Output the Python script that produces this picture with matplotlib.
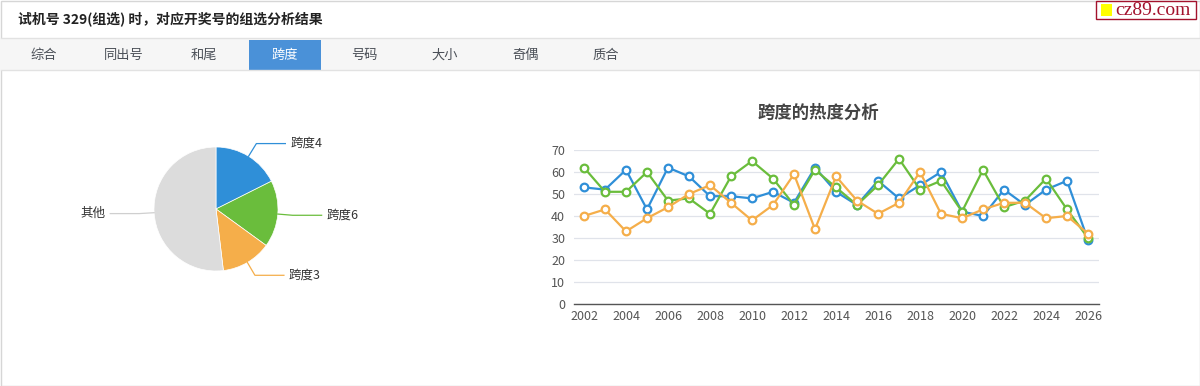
import numpy as np
import matplotlib
matplotlib.use("Agg")
import matplotlib.pyplot as plt
from matplotlib.patches import Rectangle

plt.rcParams['font.family'] = ['Noto Sans CJK SC', 'DejaVu Sans']

# ---- data ----
years = list(range(2002, 2027))
span4 = [53, 52, 61, 43, 62, 58, 49, 49, 48, 51, 46, 62, 51, 45, 56, 48, 54, 60, 42, 40, 52, 45, 52, 56, 29]
span6 = [62, 51, 51, 60, 47, 48, 41, 58, 65, 57, 45, 61, 53, 45, 54, 66, 52, 56, 42, 61, 44, 47, 57, 43, 30]
span3 = [40, 43, 33, 39, 44, 50, 54, 46, 38, 45, 59, 34, 58, 47, 41, 46, 60, 41, 39, 43, 46, 46, 39, 40, 32]

pie_labels = ['跨度4', '跨度6', '跨度3', '其他']
pie_values = [17.6, 17.4, 13.1, 51.9]

tabs = ['综合', '同出号', '和尾', '跨度', '号码', '大小', '奇偶', '质合']
active_tab = '跨度'

blue = '#2f8fd8'
green = '#6abd3c'
orange = '#f5ae4a'
gray = '#dcdcdc'
colors = [blue, green, orange, gray]

W, H = 1200, 386
fig = plt.figure(figsize=(W / 100, H / 100), dpi=100)
fig.patch.set_facecolor('white')

# ---- page chrome (pixel coords) ----
bg = fig.add_axes([0, 0, 1, 1], zorder=0)
bg.set_xlim(0, W)
bg.set_ylim(H, 0)
bg.axis('off')
bg.add_patch(Rectangle((0.5, 0.5), W - 1, H - 1, fill=False, ec='#d6d6d6', lw=1))
bg.add_patch(Rectangle((1, 38), W - 2, 32, fc='#f6f6f6', ec='none'))
bg.plot([1, W - 1], [38, 38], color='#e2e2e2', lw=1)
bg.plot([1, W - 1], [70, 70], color='#e2e2e2', lw=1)
bg.text(18, 19, '试机号 329(组选) 时，对应开奖号的组选分析结果', fontsize=10,
        fontweight='bold', color='#222222', va='center', ha='left')
for i, t in enumerate(tabs):
    cx = 44 + 80.2 * i
    if t == active_tab:
        bg.add_patch(Rectangle((cx - 36, 40), 72, 30, fc='#4a91d8', ec='none'))
        bg.text(cx, 55, t, fontsize=9.5, color='white', ha='center', va='center')
    else:
        bg.text(cx, 55, t, fontsize=9.5, color='#4a4f57', ha='center', va='center')

# logo
bg.add_patch(Rectangle((1096, 1), 100, 18, fc='white', ec='#a3122d', lw=1))
bg.add_patch(Rectangle((1101, 4), 11, 12, fc='#ffff00', ec='none'))
bg.text(1115, 10.5, 'cz89.com', fontsize=14, family='Liberation Serif',
        color='#a3122d', ha='left', va='center')

# chart title
bg.text(818, 113, '跨度的热度分析', fontsize=12.5, fontweight='bold', color='#444444',
        ha='center', va='center')

# ---- pie ----
pcx, pcy, R = 216, 209, 62
pax = fig.add_axes([(pcx - 100) / W, 1 - (pcy + 100) / H, 200 / W, 200 / H], zorder=1)
wedges, _ = pax.pie(pie_values, colors=colors, startangle=90, counterclock=False,
                    radius=1, wedgeprops=dict(linewidth=0.5, edgecolor='white'))
pax.set_xlim(-100 / R, 100 / R)
pax.set_ylim(-100 / R, 100 / R)
pax.axis('off')
for w, lab, c in zip(wedges, pie_labels, colors):
    mid = np.deg2rad((w.theta1 + w.theta2) / 2)
    x0, y0 = np.cos(mid), np.sin(mid)
    x1, y1 = 1.24 * x0, 1.24 * y0
    sgn = 1 if x0 >= 0 else -1
    x2 = x1 + sgn * 29 / R
    lc = '#cfcfcf' if c == gray else c
    pax.plot([x0, x1, x2], [y0, y1, y1], color=lc, lw=0.9, clip_on=False)
    pax.text(x2 + sgn * 5 / R, y1, lab, fontsize=9, color='#333333',
             ha='left' if sgn > 0 else 'right', va='center', clip_on=False)

# ---- line chart ----
ax = fig.add_axes([573.5 / W, 1 - 304 / H, 525 / W, 154 / H], zorder=1)
for ys, c in [(span4, blue), (span6, green), (span3, orange)]:
    ax.plot(years, ys, color=c, lw=1.6, marker='o', ms=5.5, mfc='white', mec=c, mew=1.6,
            zorder=3)
ax.set_xlim(2001.5, 2026.5)
ax.set_ylim(0, 70)
ax.set_yticks(range(0, 71, 10))
ax.set_xticks(range(2002, 2027, 2))
ax.grid(axis='y', color='#e0e3ea', lw=0.9)
ax.set_axisbelow(True)
for s in ['top', 'right', 'left']:
    ax.spines[s].set_visible(False)
ax.spines['bottom'].set_color('#555555')
ax.spines['bottom'].set_linewidth(1)
ax.tick_params(axis='both', length=0, labelsize=9, labelcolor='#555555')
ax.tick_params(axis='y', pad=6)
ax.tick_params(axis='x', pad=4)

fig.savefig('out.png', dpi=100)
